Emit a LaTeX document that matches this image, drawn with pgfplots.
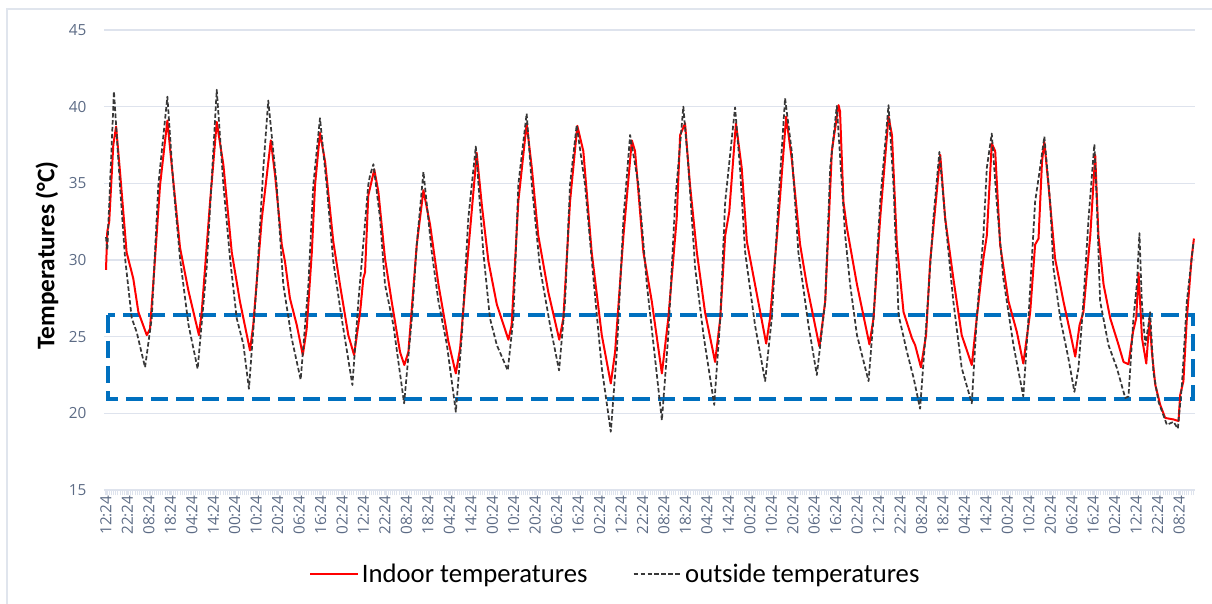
\documentclass[border=0pt]{standalone}
\usepackage{fontspec}
\setmainfont{Carlito}
\newfontfamily\tickfont{Open Sans}
\usepackage{pgfplots}
\usepackage{pgfplotstable}
\pgfplotsset{compat=1.18}
\definecolor{gridc}{rgb}{0.87,0.89,0.93}
\definecolor{tickc}{rgb}{0.36,0.42,0.52}
\definecolor{outc}{rgb}{0.22,0.22,0.22}
\definecolor{rectc}{rgb}{0.0,0.44,0.75}
\definecolor{borderc}{rgb}{0.88,0.90,0.93}

\pgfplotstableread{
h v
0 31.5
0.6 30.65
3.7 41.0
6.5 34.9
8.9 30.1
12.0 26.2
14.3 25.3
18.2 23.0
21.3 26.2
24.4 34.9
28.6 40.65
31.4 34.9
34.5 30.1
38.4 25.8
42.7 22.9
46.9 29.5
50.0 37.1
51.6 41.1
54.7 34.9
57.8 30.1
60.9 26.2
64.0 24.5
66.6 21.6
70.2 28.4
73.3 36.0
75.6 40.4
79.5 34.9
82.6 28.4
86.5 24.9
90.7 22.2
94.3 28.4
96.6 34.9
99.7 39.25
102.8 34.9
105.9 29.9
109.8 26.2
114.8 21.85
117.6 27.3
122.2 34.9
123.0 35.5
124.6 36.25
127.7 32.7
130.0 28.4
133.9 25.75
138.9 20.65
142.5 26.2
144.8 31.0
147.9 35.75
151.8 30.5
154.9 27.3
158.8 24.5
163.0 20.1
165.8 25.1
168.8 32.7
172.3 37.4
175.8 30.5
178.9 26.2
182.1 24.45
187.2 22.8
189.8 26.2
192.1 34.9
196.0 39.55
198.4 34.9
202.2 29.5
206.9 25.75
211.1 22.8
213.9 27.3
216.2 34.9
219.3 38.8
223.2 34.9
227.1 28.8
231.0 22.95
235.2 18.8
238.0 24.0
241.1 32.7
244.2 38.15
248.1 34.9
252.0 28.4
255.8 23.6
259.0 19.55
262.0 25.1
265.2 33.8
269.0 40.0
271.4 36.0
274.5 29.5
278.4 25.1
283.4 20.55
286.2 26.2
288.5 33.8
293.1 39.95
295.4 36.0
297.8 30.5
302.4 25.75
307.1 22.1
310.2 26.2
313.3 33.8
316.4 40.55
319.5 37.1
322.6 30.5
327.3 25.75
331.2 22.5
335.1 27.3
337.4 36.0
340.5 40.05
344.4 31.6
346.7 28.4
349.9 25.1
355.3 22.1
357.6 26.2
360.7 33.8
364.6 40.1
366.9 34.9
369.3 26.4
373.2 24.0
376.3 22.3
379.3 20.3
382.4 26.2
385.5 32.7
388.3 37.05
391.0 32.7
394.8 27.3
398.7 22.95
403.4 20.65
405.7 26.2
408.8 31.6
410.4 36.0
412.7 38.25
415.0 33.8
418.1 28.8
422.8 24.45
427.4 21.1
429.8 26.2
432.9 33.8
435.2 36.0
437.2 38.05
439.9 33.8
441.4 29.5
444.6 26.2
448.4 23.6
451.2 21.4
453.1 22.95
455.4 27.3
457.8 32.7
460.5 37.55
461.6 33.8
463.2 27.3
467.1 24.45
471.0 22.95
474.9 21.0
476.4 21.1
478.7 26.2
480.3 28.4
481.5 31.75
482.6 27.3
484.2 24.45
485.7 25.75
486.5 26.6
488.0 22.7
490.4 20.75
494.3 19.25
497.4 19.45
499.4 19.0
501.3 21.85
503.6 27.3
506.7 31.2
}\outdoor

\pgfplotstableread{
h v
0 29.35
0.6 31.85
1.5 32.5
3.4 37.5
4.7 38.7
6.5 35.8
9.6 30.5
12.7 28.8
15.1 26.6
19.0 25.1
20.5 25.5
22.0 28.4
25.2 34.9
28.6 39.1
30.6 36.2
34.5 30.8
38.4 28.0
43.3 25.1
44.6 26.6
48.5 33.8
51.6 39.0
54.7 36.2
58.6 30.5
62.4 27.3
67.1 24.1
68.6 25.75
72.6 32.7
76.8 37.8
78.8 35.5
81.9 31.0
83.4 29.9
85.7 27.5
88.9 25.75
91.7 23.8
93.5 25.5
95.9 30.5
97.4 34.9
99.7 38.3
102.1 36.4
105.9 31.2
109.0 28.4
112.9 25.1
115.6 23.8
118.4 26.6
119.9 28.8
120.7 29.2
122.2 34.2
125.0 35.9
126.9 34.45
130.0 30.1
133.1 27.3
137.0 24.0
139.0 23.15
140.9 24.0
144.8 31.0
147.9 34.55
151.0 32.3
154.9 28.4
159.5 24.7
163.0 22.6
165.0 24.25
168.1 29.5
172.0 35.75
172.7 37.0
175.1 33.6
178.2 29.9
182.1 27.1
187.5 24.8
189.0 25.75
192.1 33.8
196.0 38.9
198.4 36.0
201.4 31.6
206.1 27.9
211.2 24.8
213.1 26.2
216.2 33.8
219.6 38.75
222.4 37.1
226.3 30.5
231.0 25.1
235.2 21.95
237.2 24.0
241.1 31.6
245.0 37.8
246.5 37.1
250.4 30.5
254.3 27.3
259.0 22.6
262.0 26.2
265.9 32.7
267.5 38.15
269.8 38.9
272.1 34.9
275.3 30.5
279.1 26.6
283.8 23.35
286.2 26.2
288.5 31.6
290.4 33.15
293.5 38.9
296.2 36.0
298.6 31.2
302.4 28.4
307.6 24.55
309.4 26.2
313.3 32.7
316.9 39.35
319.5 36.6
323.4 31.0
326.5 28.4
332.4 24.35
335.1 27.3
338.2 37.1
341.3 40.1
342.0 39.7
343.6 33.8
345.2 32.1
349.9 28.4
355.7 24.5
357.6 26.2
360.7 32.7
364.6 39.35
366.2 38.15
368.5 31.0
371.6 26.6
375.5 24.9
377.0 24.45
379.7 23.0
382.1 25.1
384.0 29.9
388.7 36.85
391.0 32.7
394.8 28.8
398.7 25.1
403.4 23.15
405.7 26.2
408.8 30.1
410.4 31.6
412.7 37.6
414.3 37.1
416.6 31.0
420.5 27.3
424.4 25.3
427.4 23.25
430.6 26.6
432.9 31.0
434.5 31.4
436.1 36.4
437.2 37.7
439.1 34.9
442.2 30.1
446.1 27.3
449.2 25.3
451.6 23.7
453.6 25.75
455.4 26.6
458.6 31.6
460.9 36.85
462.4 31.6
464.8 28.4
467.9 26.2
471.8 24.45
474.1 23.35
476.4 23.2
478.5 25.3
480.0 26.2
481.1 29.15
482.7 24.9
484.7 23.25
486.2 26.2
487.3 24.0
488.9 21.85
491.2 20.55
493.5 19.7
497.4 19.6
499.7 19.5
500.5 21.2
502.0 22.1
503.6 26.2
505.8 30.1
506.9 31.4
}\indoor

\begin{document}
\begin{tikzpicture}
\begin{axis}[
  at={(0,0)}, anchor=south west,
  scale only axis, width=818.25pt, height=345pt,
  xmin=-0.93, xmax=507.4, ymin=15, ymax=45,
  axis line style={draw=none},
  ytick={15,20,...,45},
  xtick={0,10,...,500},
  xticklabels={12:24,22:24,08:24,18:24,04:24,14:24,00:24,10:24,20:24,06:24,16:24,02:24,
               12:24,22:24,08:24,18:24,04:24,14:24,00:24,10:24,20:24,06:24,16:24,02:24,
               12:24,22:24,08:24,18:24,04:24,14:24,00:24,10:24,20:24,06:24,16:24,02:24,
               12:24,22:24,08:24,18:24,04:24,14:24,00:24,10:24,20:24,06:24,16:24,02:24,
               12:24,22:24,08:24},
  minor xtick={-0.5,0.5,...,507},
  xtick pos=bottom, ytick pos=left,
  tick align=outside,
  major tick length=4pt, minor tick length=4pt,
  xtick style={draw=gridc, line width=0.6pt},
  ytick style={draw=none},
  ymajorgrids,
  grid style={draw=gridc, line width=1.1pt},
  /pgf/number format/assume math mode=true,
  tick label style={font=\tickfont\fontsize{11.5}{13}\selectfont, text=tickc},
  xticklabel style={rotate=90, anchor=east, inner sep=0pt},
  yticklabel style={anchor=east, inner sep=0pt, xshift=-9pt},
  ylabel={\bfseries Temperatures (°C)},
  every axis y label/.style={at={(axis description cs:-0.0522,0.51)}, rotate=90, anchor=center,
     font=\fontsize{19}{22}\selectfont},
  legend columns=2,
  legend style={at={(axis description cs:0.469,-0.1826)}, anchor=center, draw=none, fill=none,
     font=\fontsize{20}{24}\selectfont,
     /tikz/every even column/.append style={column sep=32pt}},
  legend image code/.code={\draw[#1] (0pt,0pt) -- (36pt,0pt);},
]
\draw[rectc, line width=3pt, dash pattern=on 13pt off 6pt] (axis cs:0.93,26.4) rectangle (axis cs:506.5,20.95);
\addplot[red, line width=1.5pt, line join=round] table[x=h, y=v] {\indoor};
\addlegendentry{Indoor temperatures}
\addplot[outc, line width=1.3pt, dash pattern=on 3.4pt off 1.8pt, line join=round] table[x=h, y=v] {\outdoor};
\addlegendentry{outside temperatures}
\end{axis}
\draw[borderc, line width=1pt] (-72.75pt,-100pt) -- (-72.75pt,360.75pt) -- (850pt,360.75pt);
\pgfresetboundingbox
\useasboundingbox (-78pt,-84.75pt) rectangle (831pt,367.5pt);
\end{tikzpicture}
\end{document}
